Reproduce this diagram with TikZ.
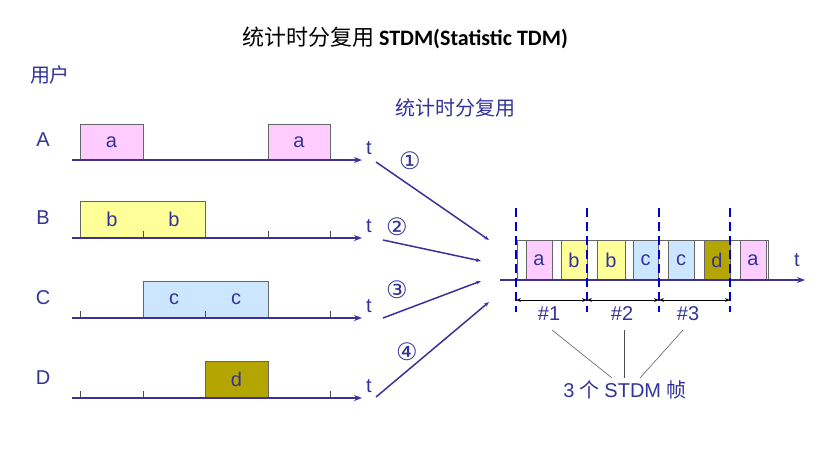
\documentclass[tikz,border=0pt]{standalone}
\usepackage{fontspec}
\setmainfont{Liberation Sans}
\newfontfamily\cjk{Noto Sans CJK SC}
\newfontfamily\titlefont{Carlito}
\newfontfamily\symfont{DejaVu Sans}
\usetikzlibrary{arrows.meta, positioning, calc}
\definecolor{navy}{RGB}{51,51,153}
\definecolor{linecol}{RGB}{60,50,150}
\definecolor{apink}{RGB}{255,204,255}
\definecolor{byellow}{RGB}{255,255,153}
\definecolor{cblue}{RGB}{204,230,255}
\definecolor{dolive}{RGB}{181,165,0}

\begin{document}
\begin{tikzpicture}[
    x=1pt, y=-1pt,
    every node/.style={text=navy, font=\fontsize{20}{20}\selectfont},
    axis/.style={-{Stealth[length=8pt]}, line width=1.8pt, linecol},
    slot/.style={draw=black!60, line width=0.5pt},
    tick/.style={line width=0.6pt, black!70},
    feed/.style={-{Stealth[length=5pt]}, line width=1.5pt, linecol},
    sep/.style={dash pattern=on 9pt off 5pt, line width=1.6pt, blue!80!black},
    span/.style={{Stealth[length=5pt]}-{Stealth[length=5pt]}, line width=0.6pt, black},
    circnum/.style={font=\symfont\fontsize{24}{24}\selectfont}
]
\useasboundingbox[fill=white] (0,0) rectangle (825,456);

% 标题
\node[text=black, font=\fontsize{22}{22}\selectfont] (title) at (405,38) {\cjk 统计时分复用 \titlefont\bfseries STDM(Statistic TDM)};
\node (user) at (50,75) {\cjk 用户};
\node (stdm) at (455,108) {\cjk 统计时分复用};

% 用户时间轴
\foreach \name/\y in {A/160, B/238, C/318, D/398} {
  \node (lbl\name) at (43,\y-20) {\name};
  \coordinate (s\name) at (72,\y);
  \coordinate (e\name) at (362,\y);
  \node (t\name) at (369,\y-12) {t};
}
\foreach \y in {238,318,398}
  \foreach \x in {80,143,205,268,330}
    \draw[tick] (\x,\y) -- (\x,\y-7);

% 用户数据
\draw[slot, fill=apink] (80,124) rectangle node (a1) {a} (143,160);
\draw[slot, fill=apink] (268,124) rectangle node (a2) {a} (330,160);
\draw[slot, fill=byellow] (80,201) rectangle (205,238);
\draw[tick] (143,238) -- (143,231);
\node (b1) at (112,219) {b};
\node (b2) at (174,219) {b};
\draw[slot, fill=cblue] (143,281) rectangle (268,318);
\draw[tick] (205,318) -- (205,311);
\node (c1) at (174,299) {c};
\node (c2) at (236,299) {c};
\draw[slot, fill=dolive] (205,361) rectangle node (d1) {d} (268,398);
\foreach \name in {A,B,C,D}
  \draw[axis] (s\name) -- (e\name);

% 汇聚
\node[circnum] (n1) at (410,161) {①};
\node[circnum] (n2) at (397,227) {②};
\node[circnum] (n3) at (397,290) {③};
\node[circnum] (n4) at (407,352) {④};
\coordinate (f1) at (376,162);
\coordinate (f2) at (383,240);
\coordinate (f3) at (383,318);
\coordinate (f4) at (376,397);
\coordinate (g1) at (489,240);
\coordinate (g2) at (481,261);
\coordinate (g3) at (481,281);
\coordinate (g4) at (489,302);
\foreach \i in {1,...,4}
  \draw[feed] (f\i) -- (g\i);

% STDM 帧
\draw[slot] (517,240) rectangle (768,280);
\foreach \l/\r/\c/\t in {526/552/apink/a, 561/587/byellow/b, 597/625/byellow/b, 633/658/cblue/c,
                         668/694/cblue/c, 704/730/dolive/d, 740/766/apink/a}
  \draw[slot, fill=\c] (\l,240) rectangle node {\t} (\r,280);
\draw[axis] (500,280) -- (805,280);
\node (tout) at (797,260) {t};
\foreach \x [count=\k] in {516,587,659,730}
  \draw[sep] (\x,208) -- (\x,312) coordinate (v\k);
\draw[span] (516,300) -- (587,300);
\draw[span] (587,300) -- (659,300);
\draw[span] (659,300) -- (730,300);
\node (h1) at (549,314) {\#1};
\node (h2) at (622,314) {\#2};
\node (h3) at (688,314) {\#3};
\node (frames) at (625,390) {3 \cjk 个 \rmfamily STDM \cjk 帧};
\draw[black!70, line width=0.5pt] (552,330) -- (612,378);
\draw[black!70, line width=0.5pt] (624,330) -- (624,378);
\draw[black!70, line width=0.5pt] (683,330) -- (640,378);
\end{tikzpicture}
\end{document}
